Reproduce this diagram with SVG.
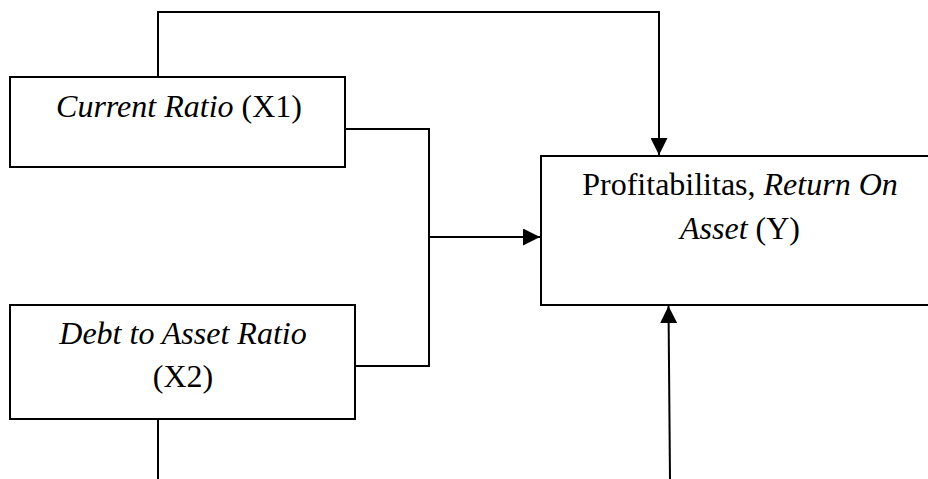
<svg xmlns="http://www.w3.org/2000/svg" width="928" height="479" viewBox="0 0 928 479">
<defs>
<style>
.box{fill:#fff;stroke:#000;stroke-width:2}
.ln{fill:none;stroke:#000;stroke-width:2}
.t{font-family:'Liberation Serif','DejaVu Serif',serif;font-size:32px;fill:#000;text-anchor:middle}
.i{font-style:italic}
</style>
<marker id="ah" viewBox="0 0 16 16" refX="16" refY="8" markerWidth="17" markerHeight="17" markerUnits="userSpaceOnUse" orient="auto">
<path d="M0,0 L16,8 L0,16 Z" fill="#000"/>
</marker>
</defs>
<g id="connectors">
<polyline class="ln" points="158,77 158,12 659,12 659,155" marker-end="url(#ah)"/>
<polyline class="ln" points="345,129 429,129 429,366 355,366"/>
<line class="ln" x1="429" y1="237" x2="540" y2="237" marker-end="url(#ah)"/>
<line class="ln" x1="158" y1="419" x2="158" y2="479"/>
<line class="ln" x1="670" y1="479" x2="668.5" y2="306" marker-end="url(#ah)"/>
</g>
<g id="node-x1">
<rect class="box" x="10" y="77" width="335" height="90"/>
<text class="t" x="179" y="117"><tspan class="i">Current Ratio</tspan> (X1)</text>
</g>
<g id="node-x2">
<rect class="box" x="10" y="305" width="345" height="114"/>
<text class="t i" x="183" y="344">Debt to Asset Ratio</text>
<text class="t" x="183" y="387">(X2)</text>
</g>
<g id="node-y">
<rect class="box" x="541" y="156" width="400" height="149"/>
<text class="t" x="740" y="195">Profitabilitas, <tspan class="i">Return On</tspan></text>
<text class="t" x="740" y="239"><tspan class="i">Asset</tspan> (Y)</text>
</g>
</svg>
